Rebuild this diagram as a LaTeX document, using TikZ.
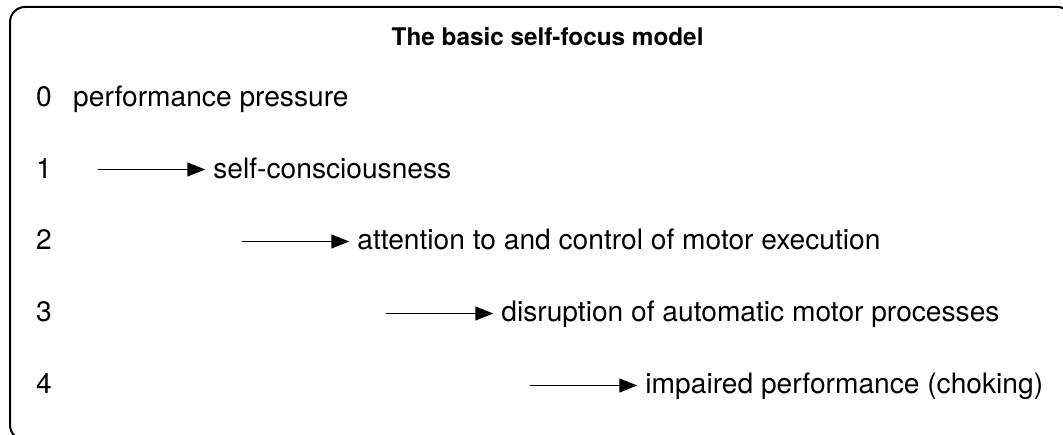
\documentclass[tikz,border=0pt]{standalone}
\usepackage{fontspec}
\setmainfont{TeX Gyre Heros}
\usetikzlibrary{arrows.meta}
\tikzset{
	flow/.style={line width=1.1pt, -{Triangle[length=13.5pt,width=10.5pt]}, shorten >=0.21cm},
	lbl/.style={anchor=base west, inner sep=0pt, font=\fontsize{21.2}{25}\selectfont},
}

\begin{document}
\begin{tikzpicture}
			%%%%% START %%%%%
			\useasboundingbox (0, 0) rectangle (28.127, 11.484);
			
			\draw[line width=1.5pt, rounded corners=0.4cm] (0.265, -0.16) rectangle (28.37, 11.30);
			
			\node[anchor=base, inner sep=0pt, font=\bfseries\fontsize{18.3}{22}\selectfont] (title) at (14.49, 10.293) {The basic self-focus model};
			
			\node[lbl] (num0) at (0.95, 8.679) {0};
			\node[lbl] (num1) at (0.95, 6.774) {1};
			\node[lbl] (num2) at (0.95, 4.869) {2};
			\node[lbl] (num3) at (0.95, 2.964) {3};
			\node[lbl] (num4) at (0.95, 1.059) {4};
			
			\node[lbl] (txt0) at (1.93, 8.679) {performance pressure};
			\node[lbl] (txt1) at (5.64, 6.774) {self-consciousness};
			\node[lbl] (txt2) at (9.45, 4.869) {attention to and control of motor execution};
			\node[lbl] (txt3) at (13.26, 2.964) {disruption of automatic motor processes};
			\node[lbl] (txt4) at (17.07, 1.059) {impaired performance (choking)};
			
			\coordinate (tail1) at (2.59, 6.999);
			\coordinate (tail2) at (6.40, 5.094);
			\coordinate (tail3) at (10.21, 3.189);
			\coordinate (tail4) at (14.02, 1.284);
			
			\draw[flow] (tail1) -- (tail1 -| txt1.west);
			\draw[flow] (tail2) -- (tail2 -| txt2.west);
			\draw[flow] (tail3) -- (tail3 -| txt3.west);
			\draw[flow] (tail4) -- (tail4 -| txt4.west);
			
			%%%%% END %%%%%
\end{tikzpicture}
\end{document}
